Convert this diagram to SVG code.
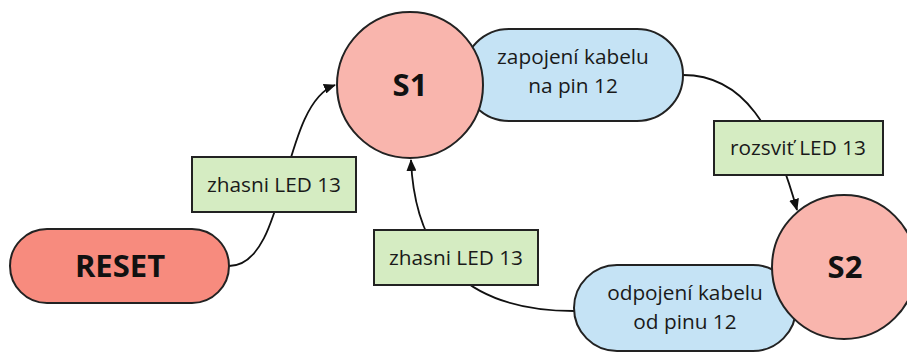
<svg xmlns="http://www.w3.org/2000/svg" width="907" height="352" viewBox="0 0 907 352">
<defs>
<marker id="arr" viewBox="0 0 12 10" refX="11" refY="5" markerWidth="12" markerHeight="10" markerUnits="userSpaceOnUse" orient="auto">
<path d="M0,0 L12,5 L0,10 Z" fill="#111"/>
</marker>
<style>
.state{fill:#f9b5ad;stroke:#222;stroke-width:2}
.reset{fill:#f78b7e;stroke:#222;stroke-width:2}
.ev{fill:#c5e3f5;stroke:#222;stroke-width:2}
.act{fill:#d5ecc2;stroke:#222;stroke-width:2}
.edge{fill:none;stroke:#111;stroke-width:1.8}
.t{font-family:"Open Sans","Liberation Sans",sans-serif;font-size:20.8px;fill:#1a1a1a;text-anchor:middle}
.b{font-family:"Open Sans","Liberation Sans",sans-serif;font-size:31px;font-weight:bold;fill:#111;text-anchor:middle}
</style>
</defs>
<rect width="907" height="352" fill="#fff"/>
<g id="connectors">
<path class="edge" d="M229,266 C288,266 280,105 335,85" marker-end="url(#arr)"/>
<path class="edge" d="M683,75 C745,75 775,130 797,210" marker-end="url(#arr)"/>
<path class="edge" d="M574,311 C470,311 415,260 411,160" marker-end="url(#arr)"/>
</g>
<g id="ev1"><rect class="ev" x="463" y="29" width="220" height="92" rx="46"/>
<text class="t" x="573" y="64">zapojení kabelu</text><text class="t" x="573" y="93">na pin 12</text></g>
<g id="ev2"><rect class="ev" x="574" y="265" width="222" height="86" rx="43"/>
<text class="t" x="685" y="300">odpojení kabelu</text><text class="t" x="685" y="329">od pinu 12</text></g>
<g id="S1"><circle class="state" cx="410" cy="85" r="73"/><text class="b" x="410" y="96">S1</text></g>
<g id="S2"><circle class="state" cx="844" cy="267" r="72"/><text class="b" x="845" y="278">S2</text></g>
<g id="RESET"><rect class="reset" x="10" y="229" width="219" height="74" rx="37"/><text class="b" x="120" y="277">RESET</text></g>
<g id="act1"><rect class="act" x="192" y="157" width="164" height="55"/><text class="t" x="274" y="192">zhasni LED 13</text></g>
<g id="act2"><rect class="act" x="714" y="121" width="169" height="54"/><text class="t" x="798" y="155">rozsviť LED 13</text></g>
<g id="act3"><rect class="act" x="374" y="230" width="164" height="55"/><text class="t" x="456" y="265">zhasni LED 13</text></g>
</svg>
